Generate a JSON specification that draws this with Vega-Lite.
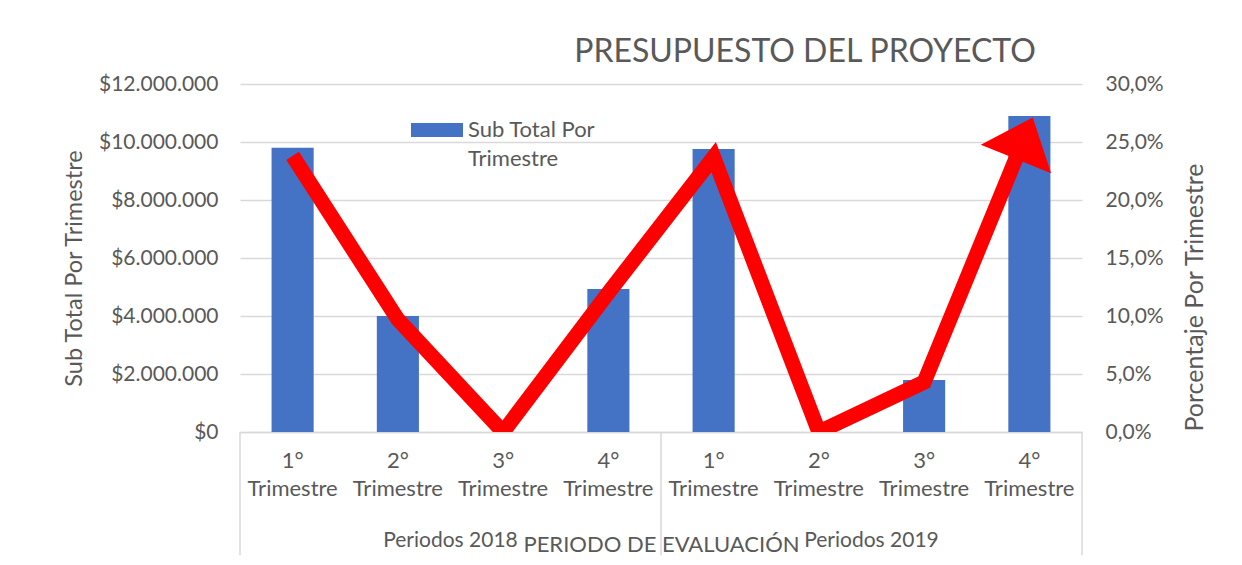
{
  "$schema": "https://vega.github.io/schema/vega-lite/v6.json",
  "width": 842,
  "height": 348,
  "autosize": {"type": "none"},
  "padding": {"left": 240, "top": 84, "right": 160, "bottom": 133},
  "background": "white",
  "config": {
    "font": "Lato",
    "locale": {"number": {"decimal": ",", "thousands": ".", "grouping": [3], "currency": ["$", ""]}},
    "view": {"stroke": null},
    "axis": {"labelColor": "#595959", "titleColor": "#595959", "labelFont": "Lato", "titleFont": "Lato", "titleFontWeight": "normal"},
    "legend": {"labelFont": "Lato", "labelColor": "#595959"},
    "style": {"guide-label": {"lineHeight": 29}}
  },
  "title": {"text": "PRESUPUESTO DEL PROYECTO", "fontSize": 32, "font": "Lato", "fontWeight": "normal", "color": "#595959", "anchor": "middle", "dx": 144, "baseline": "alphabetic", "offset": -21},
  "datasets": {
    "trimestres": [
      {"clave": "2018|1°|Trimestre", "periodo": "Periodos 2018", "subtotal": 9800000, "porcentaje": 0.238},
      {"clave": "2018|2°|Trimestre", "periodo": "Periodos 2018", "subtotal": 4000000, "porcentaje": 0.097},
      {"clave": "2018|3°|Trimestre", "periodo": "Periodos 2018", "subtotal": 0, "porcentaje": 0.0},
      {"clave": "2018|4°|Trimestre", "periodo": "Periodos 2018", "subtotal": 4930000, "porcentaje": 0.12},
      {"clave": "2019|1°|Trimestre", "periodo": "Periodos 2019", "subtotal": 9760000, "porcentaje": 0.237},
      {"clave": "2019|2°|Trimestre", "periodo": "Periodos 2019", "subtotal": 0, "porcentaje": 0.0},
      {"clave": "2019|3°|Trimestre", "periodo": "Periodos 2019", "subtotal": 1790000, "porcentaje": 0.043},
      {"clave": "2019|4°|Trimestre", "periodo": "Periodos 2019", "subtotal": 10900000, "porcentaje": 0.264}
    ],
    "periodos": [
      {"clave": "2018|2°|Trimestre", "periodo": "Periodos 2018"},
      {"clave": "2019|2°|Trimestre", "periodo": "Periodos 2019"}
    ],
    "inicios": [
      {"clave": "2018|1°|Trimestre"},
      {"clave": "2019|1°|Trimestre"}
    ],
    "finales": [
      {"clave": "2019|4°|Trimestre"}
    ]
  },
  "layer": [
    {
      "layer": [
        {
          "data": {"name": "trimestres"},
          "mark": {"type": "bar", "width": {"band": 0.4}},
          "encoding": {
            "x": {
              "field": "clave", "type": "nominal", "sort": null,
              "scale": {"paddingInner": 0, "paddingOuter": 0},
              "axis": {
                "title": "PERIODO DE EVALUACIÓN",
                "labelExpr": "slice(split(datum.value, '|'), 1)",
                "labelAngle": 0, "labelFontSize": 22, "labelLineHeight": 28, "labelPadding": 18,
                "ticks": false, "domainColor": "#d9d9d9", "domainWidth": 1.5,
                "titleFontSize": 22, "titlePadding": 35
              }
            },
            "y": {
              "field": "subtotal", "type": "quantitative",
              "scale": {"domain": [0, 12000000]},
              "axis": {
                "title": "Sub Total Por Trimestre", "format": "$,.0f",
                "values": [0, 2000000, 4000000, 6000000, 8000000, 10000000, 12000000],
                "labelFontSize": 21, "labelPadding": 22, "ticks": false, "domain": false,
                "gridColor": "#d9d9d9", "gridWidth": 1.3, "titleFontSize": 23.5, "titlePadding": 12, "titleY": 184
              }
            },
            "color": {
              "datum": "Sub Total Por Trimestre", "type": "nominal",
              "scale": {"range": ["#4472C4"]},
              "legend": {
                "orient": "none", "legendX": 171, "legendY": 20, "title": null,
                "symbolType": "M-1,-0.27L1,-0.27L1,0.27L-1,0.27Z", "symbolSize": 2704, "symbolStrokeWidth": 0,
                "labelFontSize": 22, "labelExpr": "['Sub Total Por', 'Trimestre']",
                "labelBaseline": "middle", "labelOffset": 5
              }
            }
          }
        },
        {
          "data": {"name": "inicios"},
          "mark": {"type": "rule", "color": "#d9d9d9", "strokeWidth": 1.5},
          "encoding": {
            "x": {"field": "clave", "type": "nominal", "bandPosition": 0},
            "y": {
              "datum": 0, "scale": {"domain": [0, 12000000]},
              "axis": {
                "title": "Sub Total Por Trimestre", "format": "$,.0f",
                "values": [0, 2000000, 4000000, 6000000, 8000000, 10000000, 12000000],
                "labelFontSize": 21, "labelPadding": 22, "ticks": false, "domain": false,
                "gridColor": "#d9d9d9", "gridWidth": 1.3, "titleFontSize": 23.5, "titlePadding": 12, "titleY": 184
              }
            },
            "y2": {"datum": -4250000}
          }
        },
        {
          "data": {"name": "finales"},
          "mark": {"type": "rule", "color": "#d9d9d9", "strokeWidth": 1.5},
          "encoding": {
            "x": {"field": "clave", "type": "nominal", "bandPosition": 1},
            "y": {
              "datum": 0, "scale": {"domain": [0, 12000000]},
              "axis": {
                "title": "Sub Total Por Trimestre", "format": "$,.0f",
                "values": [0, 2000000, 4000000, 6000000, 8000000, 10000000, 12000000],
                "labelFontSize": 21, "labelPadding": 22, "ticks": false, "domain": false,
                "gridColor": "#d9d9d9", "gridWidth": 1.3, "titleFontSize": 23.5, "titlePadding": 12, "titleY": 184
              }
            },
            "y2": {"datum": -4250000}
          }
        },
        {
          "data": {"name": "periodos"},
          "mark": {"type": "text", "fontSize": 21, "color": "#595959", "baseline": "alphabetic", "align": "center", "dy": 115},
          "encoding": {
            "x": {"field": "clave", "type": "nominal", "bandPosition": 1},
            "y": {
              "datum": 0, "scale": {"domain": [0, 12000000]},
              "axis": {
                "title": "Sub Total Por Trimestre", "format": "$,.0f",
                "values": [0, 2000000, 4000000, 6000000, 8000000, 10000000, 12000000],
                "labelFontSize": 21, "labelPadding": 22, "ticks": false, "domain": false,
                "gridColor": "#d9d9d9", "gridWidth": 1.3, "titleFontSize": 23.5, "titlePadding": 12, "titleY": 184
              }
            },
            "text": {"field": "periodo"}
          }
        }
      ]
    },
    {
      "layer": [
        {
          "data": {"name": "trimestres"},
          "mark": {"type": "line", "color": "#FF0000", "strokeWidth": 15, "clip": true, "strokeJoin": "miter", "strokeCap": "butt"},
          "encoding": {
            "x": {"field": "clave", "type": "nominal", "sort": null},
            "y": {
              "field": "porcentaje", "type": "quantitative",
              "scale": {"domain": [0, 0.3]},
              "axis": {
                "orient": "right", "title": "Porcentaje Por Trimestre", "format": ".1%",
                "values": [0, 0.05, 0.1, 0.15, 0.2, 0.25, 0.3],
                "labelFontSize": 21, "labelPadding": 23, "ticks": false, "domain": false, "grid": false,
                "titleFontSize": 25, "titleAngle": 270, "titleBaseline": "top", "titlePadding": 19, "titleY": 213
              }
            }
          }
        },
        {
          "data": {"name": "trimestres"},
          "transform": [{"filter": "datum.clave == '2019|4°|Trimestre'"}],
          "mark": {"type": "point", "shape": "M0,-0.2L0.846,0.8L-0.846,0.8Z", "size": 8028, "angle": 22, "filled": true, "color": "#FF0000", "opacity": 1, "strokeWidth": 0},
          "encoding": {
            "x": {"field": "clave", "type": "nominal", "sort": null},
            "y": {
              "field": "porcentaje", "type": "quantitative",
              "scale": {"domain": [0, 0.3]},
              "axis": {
                "orient": "right", "title": "Porcentaje Por Trimestre", "format": ".1%",
                "values": [0, 0.05, 0.1, 0.15, 0.2, 0.25, 0.3],
                "labelFontSize": 21, "labelPadding": 23, "ticks": false, "domain": false, "grid": false,
                "titleFontSize": 25, "titleAngle": 270, "titleBaseline": "top", "titlePadding": 19, "titleY": 213
              }
            }
          }
        }
      ]
    }
  ],
  "resolve": {"scale": {"y": "independent"}}
}
